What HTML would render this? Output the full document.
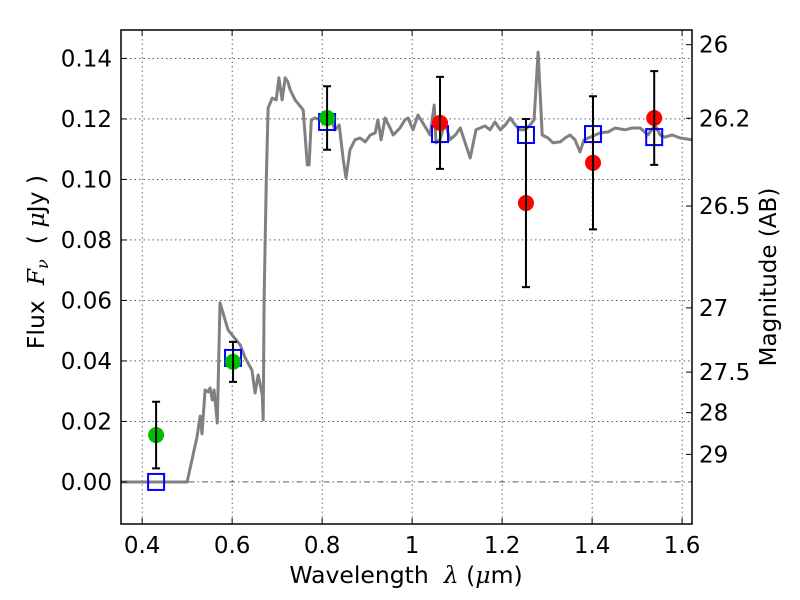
<!DOCTYPE html>
<html><head><meta charset="utf-8"><style>
body{margin:0;background:#fff;}
svg{display:block;font-family:"DejaVu Sans","Liberation Sans",sans-serif;}
</style></head><body>
<svg id="chart" width="800" height="600" viewBox="0 0 800 600" xmlns="http://www.w3.org/2000/svg">
<rect width="800" height="600" fill="#fff"/>
<g id="grid"></g>
<g id="spec"></g>
<g id="marks"></g>
<rect x="121" y="30" width="571" height="494" fill="none" stroke="#000" stroke-width="1.5"/>
<g id="axes"></g>
<text x="406" y="583" font-size="23.5" text-anchor="middle">Wavelength&#160;&#160;<tspan font-style="italic" font-family="DejaVu Serif, serif">λ</tspan> (<tspan font-style="italic" font-family="DejaVu Serif, serif">μ</tspan>m)</text>
<text transform="translate(44,262) rotate(-90)" font-size="23.5" text-anchor="middle">Flux&#160;&#160;<tspan font-style="italic" font-family="DejaVu Serif, serif">F<tspan font-size="16" dy="4">ν</tspan></tspan><tspan dy="-4">&#160;&#160;( </tspan><tspan font-style="italic" font-family="DejaVu Serif, serif">μ</tspan>Jy )</text>
<text transform="translate(776,277) rotate(-90)" font-size="23" text-anchor="middle">Magnitude (AB)</text>
</svg>
<script>
const xTicks=[0.4,0.6,0.8,1.0,1.2,1.4,1.6];
const xTickLabels=["0.4","0.6","0.8","1","1.2","1.4","1.6"];
const yTicks=[0,0.02,0.04,0.06,0.08,0.10,0.12,0.14];
const yTickLabels=["0.00","0.02","0.04","0.06","0.08","0.10","0.12","0.14"];
const magTicks=[26,26.2,26.5,27,27.5,28,29];
const magTickLabels=["26","26.2","26.5","27","27.5","28","29"];
const specWl=[0.353,0.500,0.522,0.529,0.533,0.540,0.547,0.551,0.556,0.560,0.567,0.573,0.591,0.600,0.618,0.629,0.644,0.651,0.658,0.667,0.669,0.671,0.676,0.680,0.689,0.698,0.704,0.711,0.718,0.724,0.729,0.740,0.747,0.758,0.767,0.771,0.776,0.784,0.796,0.807,0.818,0.829,0.838,0.847,0.853,0.862,0.873,0.884,0.896,0.907,0.918,0.924,0.931,0.940,0.951,0.958,0.973,0.984,0.991,1.002,1.013,1.029,1.040,1.049,1.053,1.062,1.073,1.084,1.096,1.107,1.129,1.142,1.162,1.173,1.184,1.196,1.207,1.218,1.229,1.240,1.251,1.262,1.271,1.280,1.289,1.302,1.313,1.329,1.340,1.351,1.362,1.373,1.382,1.396,1.418,1.436,1.451,1.473,1.489,1.507,1.524,1.540,1.551,1.562,1.578,1.596,1.622];
const specFlux=[0,0,0.0149,0.0218,0.0159,0.0304,0.0298,0.0311,0.0271,0.0304,0.0195,0.0592,0.0502,0.0486,0.0453,0.0410,0.0370,0.0294,0.0354,0.0288,0.0205,0.0602,0.0998,0.1236,0.1269,0.1263,0.1336,0.1263,0.1336,0.1322,0.1296,0.1263,0.1250,0.1230,0.1048,0.1048,0.1197,0.1203,0.1197,0.1217,0.1203,0.1164,0.1180,0.1064,0.1005,0.1098,0.1131,0.1137,0.1124,0.1147,0.1154,0.1197,0.1131,0.1203,0.1170,0.1147,0.1170,0.1197,0.1203,0.1164,0.1213,0.1174,0.1147,0.1246,0.1121,0.1131,0.1190,0.1131,0.1147,0.1170,0.1071,0.1164,0.1177,0.1164,0.1190,0.1164,0.1180,0.1203,0.1180,0.1164,0.1164,0.1180,0.1197,0.1421,0.1147,0.1137,0.1121,0.1124,0.1137,0.1147,0.1131,0.1091,0.1131,0.1140,0.1154,0.1157,0.1170,0.1164,0.1170,0.1170,0.1147,0.1180,0.1147,0.1140,0.1147,0.1137,0.1131];
const obsWl=[0.431,0.602,0.811,1.062,1.253,1.402,1.538];
const obsFlux=[0.0155,0.0397,0.1203,0.1187,0.0922,0.1055,0.1203];
const obsErr=[0.011,0.0066,0.0105,0.0152,0.0278,0.022,0.0155];
const obsColor=["#00bb00","#00bb00","#00bb00","#ff0000","#ff0000","#ff0000","#ff0000"];
const modelFlux=[0.0,0.041,0.119,0.115,0.1147,0.115,0.114];

const X0=121,X1=692,Y0=30,Y1=524;
const xMin=0.353,xMax=1.622,yMin=-0.0139,yMax=0.1494;
const xs=v=>X0+(v-xMin)/(xMax-xMin)*(X1-X0);
const ys=v=>Y1-(v-yMin)/(yMax-yMin)*(Y1-Y0);
const magToFlux=m=>Math.pow(10,(23.9-m)/2.5);
const NS="http://www.w3.org/2000/svg";
function mk(t,a,p){const e=document.createElementNS(NS,t);for(const k in a)e.setAttribute(k,a[k]);p.appendChild(e);return e;}
const grid=document.getElementById('grid'),axes=document.getElementById('axes'),spec=document.getElementById('spec'),marks=document.getElementById('marks');
xTicks.forEach((v,i)=>{const x=xs(v);
 const g=mk('line',{x1:x,x2:x,y1:Y0,y2:Y1,stroke:'#000','stroke-width':0.6,'stroke-dasharray':'1.5,3'},grid);
 
 
 mk('line',{x1:x,x2:x,y1:Y1,y2:Y1-6,stroke:'#000'},axes);
 mk('line',{x1:x,x2:x,y1:Y0,y2:Y0+6,stroke:'#000'},axes);
 const t=mk('text',{x:x,y:553,'font-size':23,'text-anchor':'middle'},axes);t.textContent=xTickLabels[i];
 
 });
yTicks.forEach((v,i)=>{const y=ys(v);
 const g=mk('line',{x1:X0,x2:X1,y1:y,y2:y,stroke:'#000','stroke-width':0.6,'stroke-dasharray':v===0?'6,3,1.5,3':'1.5,3'},grid);
 
 
 mk('line',{x1:X0,x2:X0+6,y1:y,y2:y,stroke:'#000'},axes);
 const t=mk('text',{x:112,y:y+8,'font-size':23,'text-anchor':'end'},axes);t.textContent=yTickLabels[i];
 
 });
magTicks.forEach((m,i)=>{const y=ys(magToFlux(m));
 mk('line',{x1:X1,x2:X1-6,y1:y,y2:y,stroke:'#000'},axes);
 const t=mk('text',{x:699,y:y+8,'font-size':23},axes);t.textContent=magTickLabels[i];
 
 });
let d='';specWl.forEach((w,i)=>{d+=(i?'L':'M')+xs(w).toFixed(1)+','+ys(specFlux[i]).toFixed(1);});
const sp=mk('path',{d:d,fill:'none',stroke:'#808080','stroke-width':3,'stroke-linejoin':'round'},spec);


obsWl.forEach((w,i)=>{const x=xs(w);
 const sq=mk('rect',{x:x-8,y:ys(modelFlux[i])-8,width:16,height:16,fill:'none',stroke:'#0000ff','stroke-width':2},marks);
 
 
 const c=mk('circle',{cx:x,cy:ys(obsFlux[i]),r:8,fill:obsColor[i]},marks);
 
 
 const yt=ys(obsFlux[i]+obsErr[i]),yb=ys(obsFlux[i]-obsErr[i]);
 const eb=mk('path',{d:`M${x},${yt}L${x},${yb}M${x-4},${yt}L${x+4},${yt}M${x-4},${yb}L${x+4},${yb}`,stroke:'#000','stroke-width':2,fill:'none'},marks);
 
 });
</script>
</body></html>
